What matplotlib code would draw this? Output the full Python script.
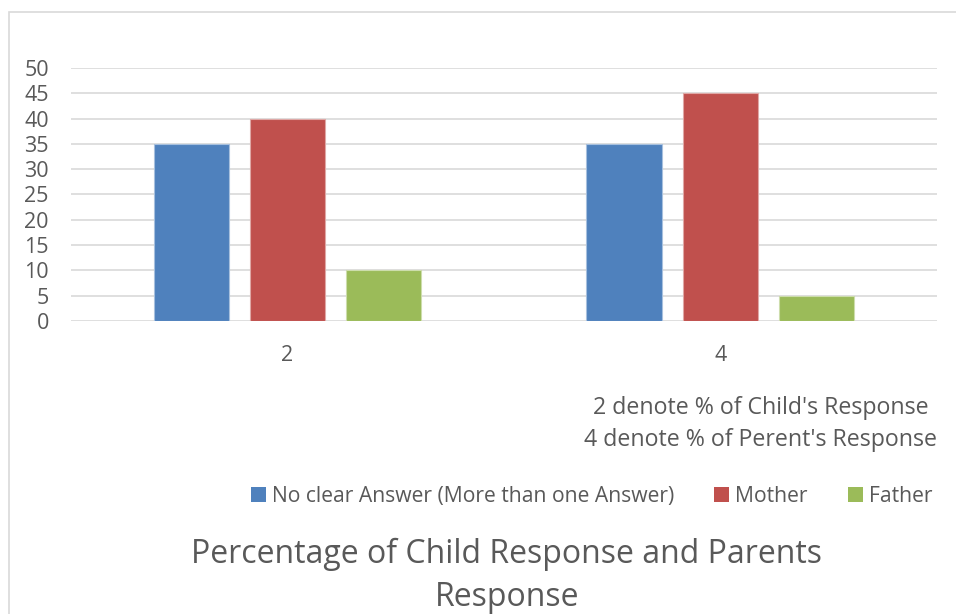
import matplotlib.pyplot as plt
import numpy as np
from matplotlib.patches import Rectangle, Patch

plt.rcParams['font.family'] = ['Open Sans', 'DejaVu Sans']

categories = ['2', '4']
series_names = ['No clear Answer (More than one Answer)', 'Mother', 'Father']
values = {
    'No clear Answer (More than one Answer)': [35, 35],
    'Mother': [40, 45],
    'Father': [10, 5],
}
colors = ['#4F81BD', '#C0504D', '#9BBB59']
edge_colors = ['#A7C0DE', '#DFA8A6', '#CDDDAC']
text_color = '#595959'

fig = plt.figure(figsize=(9.56, 6.14), dpi=100)

# chart frame, only top and left edges show
fig.patches.append(Rectangle((0.0099, -0.1), 1.2, 1.0805, transform=fig.transFigure,
                             fill=False, edgecolor='#D9D9D9', linewidth=1.2))

ax = fig.add_axes([0.0743, 0.4772, 0.9057, 0.4121])

x = np.arange(len(categories))
bar_w = 0.175
step = 0.222
for i, name in enumerate(series_names):
    ax.bar(x + (i - 1) * step, values[name], width=bar_w, color=colors[i],
           edgecolor=edge_colors[i], linewidth=0.8, label=name, zorder=3)

ax.set_xlim(-0.5, 1.5)
ax.set_ylim(0, 50)
ax.set_yticks(range(0, 51, 5))
ax.set_xticks(x)
ax.set_xticklabels(categories)
ax.grid(axis='y', color='#D9D9D9', linewidth=1.2, zorder=0)
ax.set_axisbelow(True)
for s in ax.spines.values():
    s.set_visible(False)
ax.tick_params(length=0, colors=text_color, labelsize=15.5)
ax.tick_params(axis='y', pad=16)
ax.tick_params(axis='x', pad=17)

fig.text(0.796, 0.336, "2 denote % of Child's Response", ha='center', va='center',
         fontsize=16.7, color=text_color)
fig.text(0.796, 0.284, "4 denote % of Perent's Response", ha='center', va='center',
         fontsize=16.7, color=text_color)

handles = [Patch(facecolor=c) for c in colors]
fig.legend(handles, series_names, loc='center', bbox_to_anchor=(0.619, 0.192),
           ncol=3, frameon=False, fontsize=15.2, labelcolor=text_color,
           handlelength=0.7, handleheight=0.7, handletextpad=0.3,
           columnspacing=1.9)

fig.text(0.530, 0.062, 'Percentage of Child Response and Parents\nResponse',
         ha='center', va='center', fontsize=23, color=text_color, linespacing=1.43)

fig.savefig('out.png', dpi=100)
